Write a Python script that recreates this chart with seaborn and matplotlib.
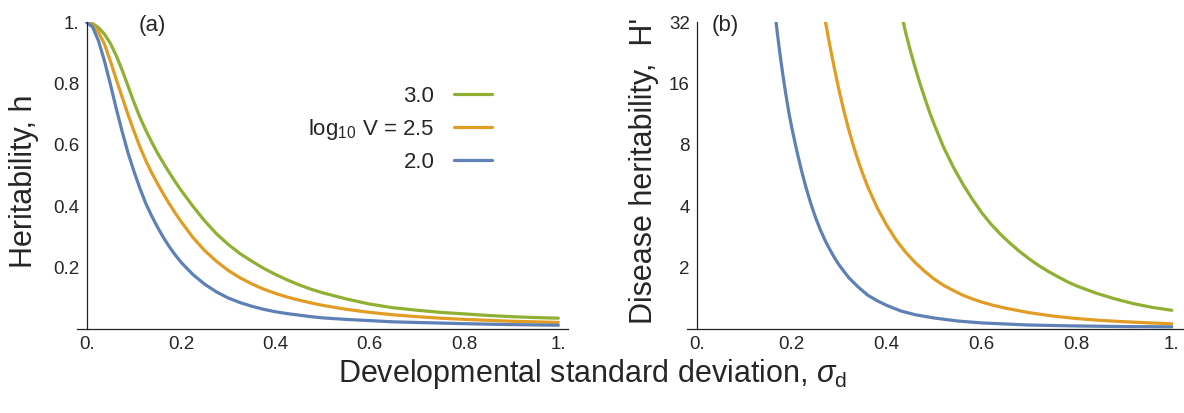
import matplotlib
matplotlib.use("Agg")
import matplotlib.pyplot as plt
import seaborn as sns
import pandas as pd
from matplotlib.ticker import FixedLocator, FixedFormatter

# panel (a): heritability h against developmental sd
sigma_a = [0, 0.0125, 0.025, 0.0375, 0.05, 0.0625, 0.075, 0.0875, 0.1, 0.1125,
           0.125, 0.1375, 0.15, 0.1625, 0.175, 0.1875, 0.2, 0.225, 0.25, 0.275,
           0.3, 0.325, 0.35, 0.375, 0.4, 0.425, 0.45, 0.475, 0.5, 0.55, 0.6,
           0.65, 0.7, 0.75, 0.8, 0.85, 0.9, 0.95, 1.0]
h_20 = [1.0, 0.985, 0.94, 0.875, 0.80, 0.72, 0.645, 0.575, 0.515, 0.46,
        0.41, 0.369, 0.332, 0.298, 0.268, 0.241, 0.217, 0.177, 0.145, 0.12,
        0.1, 0.085, 0.073, 0.063, 0.055, 0.049, 0.044, 0.039, 0.035, 0.030, 0.026,
        0.022, 0.020, 0.018, 0.016, 0.0145, 0.013, 0.012, 0.011]
h_25 = [1.0, 0.992, 0.968, 0.93, 0.875, 0.815, 0.757, 0.70, 0.646, 0.595,
        0.55, 0.51, 0.474, 0.44, 0.408, 0.378, 0.35, 0.298, 0.255, 0.22,
        0.19, 0.166, 0.146, 0.129, 0.115, 0.103, 0.093, 0.084, 0.076, 0.063, 0.053,
        0.045, 0.039, 0.034, 0.030, 0.027, 0.024, 0.022, 0.020]
h_30 = [1.0, 0.996, 0.983, 0.962, 0.932, 0.892, 0.845, 0.793, 0.74, 0.692,
        0.649, 0.61, 0.574, 0.541, 0.51, 0.48, 0.452, 0.40, 0.352, 0.31,
        0.275, 0.245, 0.22, 0.197, 0.177, 0.159, 0.143, 0.129, 0.117, 0.097, 0.08,
        0.068, 0.06, 0.053, 0.048, 0.043, 0.039, 0.036, 0.034]

# panel (b): disease heritability H' (curves run off the top at 32)
sigma_b20 = [0.165, 0.17, 0.175, 0.18, 0.185, 0.19, 0.195, 0.2, 0.21, 0.22, 0.23,
             0.24, 0.25, 0.26, 0.27, 0.28, 0.29, 0.3, 0.32, 0.34, 0.36, 0.38,
             0.4, 0.43, 0.46, 0.5, 0.55, 0.6, 0.7, 0.8, 0.9, 1.0]
H_20 = [35.5, 28.0, 22.6, 18.6, 15.5, 13.1, 11.2, 9.75, 7.6, 6.06, 4.94,
        4.13, 3.52, 3.07, 2.72, 2.45, 2.23, 2.05, 1.78, 1.60, 1.46, 1.37,
        1.30, 1.22, 1.17, 1.127, 1.089, 1.066, 1.041, 1.03, 1.023, 1.02]
sigma_b25 = [0.265, 0.27, 0.28, 0.29, 0.3, 0.31, 0.32, 0.33, 0.34, 0.35, 0.36,
             0.38, 0.4, 0.42, 0.44, 0.46, 0.48, 0.5, 0.52, 0.54, 0.56, 0.58,
             0.6, 0.625, 0.65, 0.7, 0.75, 0.8, 0.85, 0.9, 0.95, 1.0]
H_25 = [38.3, 33.1, 24.8, 18.9, 14.7, 11.7, 9.51, 7.89, 6.66, 5.72, 4.98,
        3.92, 3.22, 2.72, 2.37, 2.11, 1.91, 1.75, 1.63, 1.54, 1.46, 1.40,
        1.35, 1.30, 1.26, 1.197, 1.152, 1.12, 1.097, 1.081, 1.067, 1.056]
sigma_b30 = [0.43, 0.44, 0.45, 0.46, 0.47, 0.48, 0.49, 0.5, 0.52, 0.54, 0.56,
             0.58, 0.6, 0.62, 0.64, 0.66, 0.68, 0.7, 0.72, 0.74, 0.76, 0.78,
             0.8, 0.84, 0.88, 0.92, 0.96, 1.0]
H_30 = [36, 28.4, 23.1, 19.1, 16.0, 13.6, 11.6, 10.07, 7.75, 6.23, 5.14,
        4.33, 3.71, 3.25, 2.90, 2.62, 2.39, 2.20, 2.04, 1.91, 1.80, 1.70,
        1.62, 1.495, 1.40, 1.325, 1.27, 1.23]

series = ["3.0", "2.5", "2.0"]
labels = ["3.0", "log$_{10}$ V = 2.5", "2.0"]
colors = ["#8fb032", "#e19c24", "#5e81b5"]

x_ticks = [0, 0.2, 0.4, 0.6, 0.8, 1.0]
x_ticklabels = ["0.", "0.2", "0.4", "0.6", "0.8", "1."]
ya_ticks = [0.2, 0.4, 0.6, 0.8, 1.0]
ya_ticklabels = ["0.2", "0.4", "0.6", "0.8", "1."]
yb_ticks = [2, 4, 8, 16, 32]
yb_ticklabels = ["2", "4", "8", "16", "32"]

df_a = pd.concat([
    pd.DataFrame({"sigma": sigma_a, "value": h_30, "logV": "3.0"}),
    pd.DataFrame({"sigma": sigma_a, "value": h_25, "logV": "2.5"}),
    pd.DataFrame({"sigma": sigma_a, "value": h_20, "logV": "2.0"}),
])
df_b = pd.concat([
    pd.DataFrame({"sigma": sigma_b30, "value": H_30, "logV": "3.0"}),
    pd.DataFrame({"sigma": sigma_b25, "value": H_25, "logV": "2.5"}),
    pd.DataFrame({"sigma": sigma_b20, "value": H_20, "logV": "2.0"}),
])

sns.set_theme(style="white")
plt.rcParams["font.family"] = ["Liberation Sans", "DejaVu Sans"]
plt.rcParams["mathtext.fontset"] = "custom"
plt.rcParams["mathtext.rm"] = "Liberation Sans"
plt.rcParams["mathtext.it"] = "Liberation Sans:italic"

fig = plt.figure(figsize=(11.84, 4.13), dpi=100)
ax_a = fig.add_axes([0.0652, 0.2044, 0.4143, 0.7416])
ax_b = fig.add_axes([0.5804, 0.2044, 0.4197, 0.7416])

pal = dict(zip(series, colors))
for ax, df in [(ax_a, df_a), (ax_b, df_b)]:
    sns.lineplot(data=df, x="sigma", y="value", hue="logV", hue_order=series,
                 palette=pal, linewidth=2.3, ax=ax, legend=False, sort=False,
                 estimator=None)

ax_a.set_xlim(-0.02, 1.02)
ax_a.set_ylim(0, 1.0)
ax_b.set_xlim(-0.02, 1.026)
ax_b.set_yscale("log", base=2)
ax_b.set_ylim(1, 32)

for ax in (ax_a, ax_b):
    for s in ("top", "right"):
        ax.spines[s].set_visible(False)
    ax.spines["left"].set_position(("data", 0))
    for s in ("left", "bottom"):
        ax.spines[s].set_color("#222222")
        ax.spines[s].set_linewidth(0.9)
    ax.xaxis.set_major_locator(FixedLocator(x_ticks))
    ax.xaxis.set_major_formatter(FixedFormatter(x_ticklabels))
    ax.tick_params(direction="in", length=4.5, width=0.9, color="#222222",
                   labelsize=13.5, pad=5)
    ax.minorticks_off()
    ax.set_xlabel("")
    ax.patch.set_alpha(0)

ax_a.yaxis.set_major_locator(FixedLocator(ya_ticks))
ax_a.yaxis.set_major_formatter(FixedFormatter(ya_ticklabels))
ax_b.yaxis.set_major_locator(FixedLocator(yb_ticks))
ax_b.yaxis.set_major_formatter(FixedFormatter(yb_ticklabels))
ax_b.minorticks_off()

ax_a.set_ylabel("Heritability, h", fontsize=22)
ax_a.yaxis.set_label_coords(-0.077, 0.48)
ax_b.set_ylabel("Disease heritability,  H'", fontsize=22)
ax_b.yaxis.set_label_coords(-0.057, 0.514)

ax_a.text(0.1525, 0.99, "(a)", transform=ax_a.transAxes, fontsize=16,
          ha="center", va="center")
ax_b.text(0.076, 0.99, "(b)", transform=ax_b.transAxes, fontsize=16,
          ha="center", va="center")

handles = ax_a.get_lines()[:3]
ax_a.legend(handles, labels, loc="center right", bbox_to_anchor=(0.8457, 0.65),
            frameon=False, markerfirst=False, fontsize=16, handlelength=1.7,
            handletextpad=0.9, labelspacing=0.45, borderpad=0, borderaxespad=0)

fig.text(0.5, 0.095, r"Developmental standard deviation, $\mathit{\sigma}_{\rm d}$",
         ha="center", va="center", fontsize=22)

fig.savefig("out.png", dpi=100)
